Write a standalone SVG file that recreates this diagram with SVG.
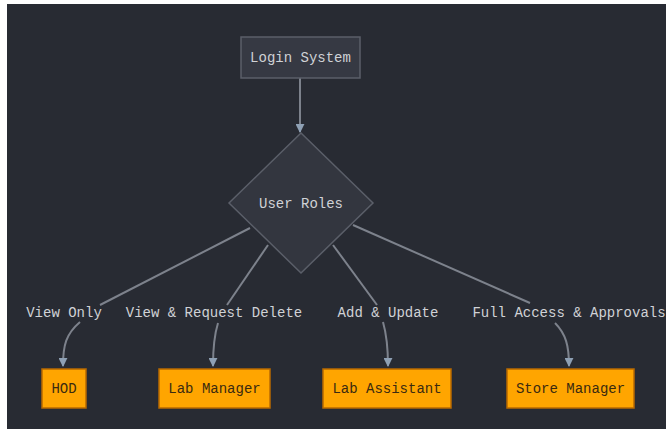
<svg xmlns="http://www.w3.org/2000/svg" width="666" height="429" viewBox="0 0 666 429">
<defs>
<style>
.bg{fill:#282b33}
.t{font-family:"Liberation Mono","DejaVu Sans Mono",monospace;font-size:14px;text-anchor:middle;dominant-baseline:central}
.lt{fill:#d0d2d6}
.dk{fill:#3a2a10}
.edge{fill:none;stroke:#7d828c;stroke-width:2}
.ob{fill:#ffa500;stroke:#b86a00;stroke-width:1.5}
</style>
<marker id="ah" viewBox="0 0 10 10" refX="9" refY="5" markerWidth="9" markerHeight="9" markerUnits="userSpaceOnUse" orient="auto">
<path d="M0,0 L10,5 L0,10 z" fill="#8ea0b4"/>
</marker>
</defs>
<rect x="0" y="0" width="666" height="429" fill="#ffffff"/>
<rect class="bg" x="7" y="4" width="659" height="425"/>
<g id="connectors">
<path class="edge" d="M300,78 L300,132" marker-end="url(#ah)"/>
<path class="edge" d="M250,228 L100,305"/>
<path class="edge" d="M80,322 C66,334 63,345 63,366" marker-end="url(#ah)"/>
<path class="edge" d="M268,245 L227,305"/>
<path class="edge" d="M218,323 C214,336 213,348 213,366" marker-end="url(#ah)"/>
<path class="edge" d="M333,245 L377,305"/>
<path class="edge" d="M383,322 C387,336 388,348 388,366" marker-end="url(#ah)"/>
<path class="edge" d="M353,225 L530,303"/>
<path class="edge" d="M555,323 C566,334 569,346 569,366" marker-end="url(#ah)"/>
</g>
<g id="edge-labels">
<text class="t lt" x="64" y="313">View Only</text>
<text class="t lt" x="214" y="313">View &amp; Request Delete</text>
<text class="t lt" x="388" y="313">Add &amp; Update</text>
<text class="t lt" x="569" y="313">Full Access &amp; Approvals</text>
</g>
<g id="login">
<rect x="241" y="37" width="119" height="41" fill="#363943" stroke="#5b5f69" stroke-width="1.5"/>
<text class="t lt" x="300.5" y="58">Login System</text>
</g>
<g id="roles">
<polygon points="301,133 373,203 301,273 229,203" fill="#33363f" stroke="#5b5f69" stroke-width="1.5"/>
<text class="t lt" x="301" y="204">User Roles</text>
</g>
<g id="hod">
<rect class="ob" x="42" y="369" width="44" height="39"/>
<text class="t dk" x="64" y="388.5">HOD</text>
</g>
<g id="labmanager">
<rect class="ob" x="159" y="369" width="111" height="39"/>
<text class="t dk" x="214.5" y="388.5">Lab Manager</text>
</g>
<g id="labassistant">
<rect class="ob" x="323" y="369" width="128" height="39"/>
<text class="t dk" x="387" y="388.5">Lab Assistant</text>
</g>
<g id="storemanager">
<rect class="ob" x="507" y="369" width="127" height="39"/>
<text class="t dk" x="570.5" y="388.5">Store Manager</text>
</g>
</svg>
